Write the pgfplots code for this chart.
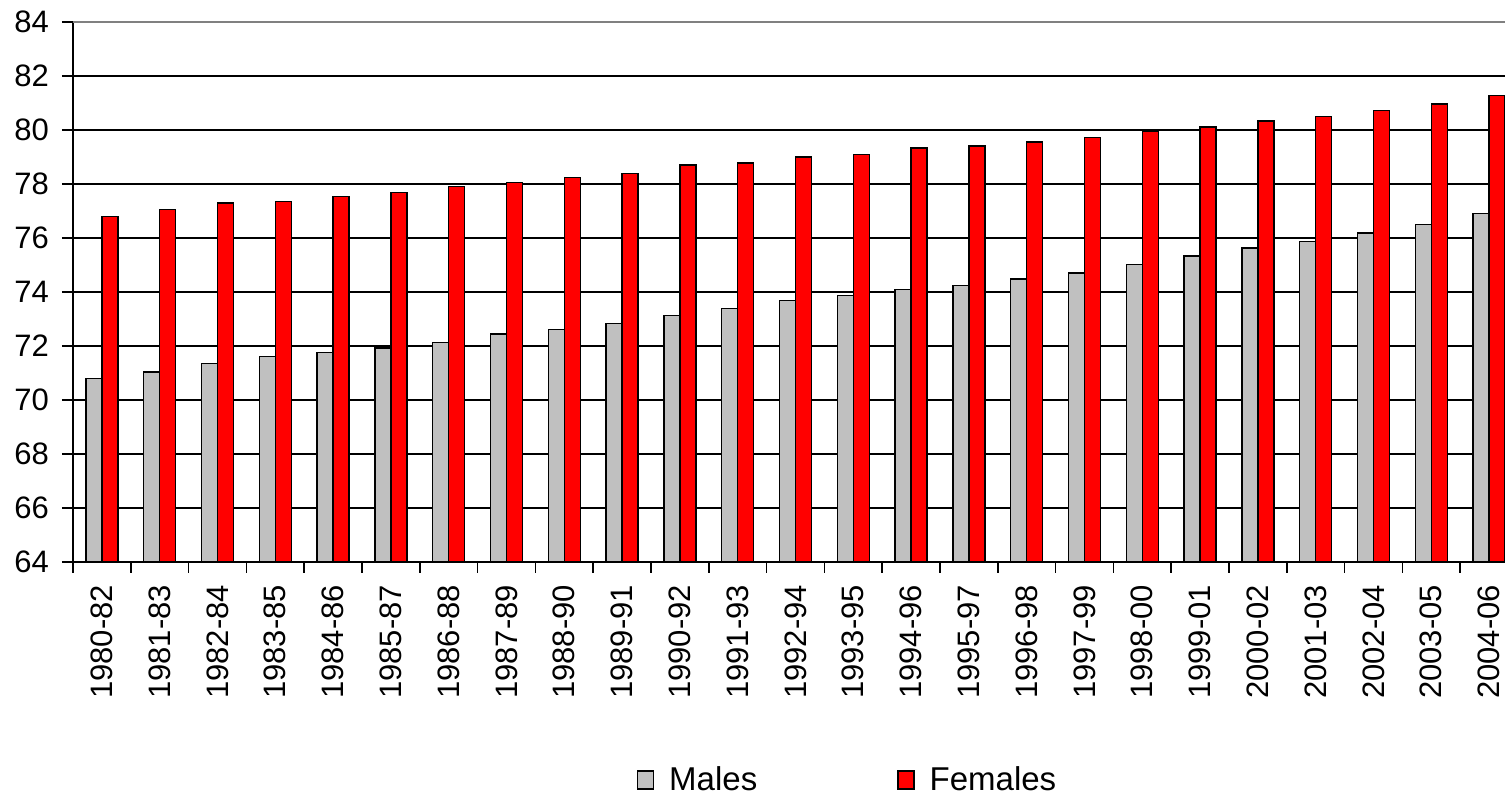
\documentclass[border=0pt]{standalone}
\usepackage{pgfplots}
\pgfplotsset{compat=1.18}
\usepackage{fontspec}
\setmainfont{Liberation Sans}
\definecolor{mgrey}{HTML}{C0C0C0}
\definecolor{fred}{HTML}{FF0000}
\begin{document}
\begin{tikzpicture}
\begin{scope}
\clip (-36.5pt,-117pt) rectangle (716pt,281pt);
\begin{axis}[
  at={(0,0)}, anchor=south west,
  scale only axis, width=722.5pt, height=270pt,
  ybar=0pt, bar width=8pt,
  xmin=-0.5, xmax=24.5, ymin=64, ymax=84,
  ytick={64,66,...,82},
  extra y ticks={84},
  extra y tick style={major grid style={draw=black!50, line width=0.7pt}},
  axis x line*=bottom, axis y line*=left,
  axis line style={line width=0.8pt, black},
  tick align=outside,
  major tick length=5.5pt,
  minor tick length=5.5pt,
  tick style={black, line width=0.8pt},
  xtick={0,...,24},
  major x tick style={draw=none},
  minor xtick={-0.5,0.5,...,24.5},
  minor x tick style={black, line width=0.8pt},
  xticklabels={1980-82,1981-83,1982-84,1983-85,1984-86,1985-87,1986-88,1987-89,1988-90,1989-91,1990-92,1991-93,1992-94,1993-95,1994-96,1995-97,1996-98,1997-99,1998-00,1999-01,2000-02,2001-03,2002-04,2003-05,2004-06},
  ymajorgrids, major grid style={black, line width=0.7pt},
  /pgf/number format/assume math mode=true,
  tick label style={font=\fontsize{15.5}{18}\selectfont},
  xticklabel style={yshift=-2.5pt, rotate=90, anchor=east},
  yticklabel style={xshift=-3pt},
  legend style={at={(0.5367,-0.404)}, anchor=center, draw=none, fill=none,
    legend columns=2, font=\fontsize{16.5}{19}\selectfont,
    /tikz/every odd column/.append style={column sep=5.5pt},
    /tikz/every even column/.append style={column sep=68pt}},
  legend image code/.code={\draw[#1, line width=0.7pt] (0pt,-4.5pt) rectangle (8pt,4.5pt);},
]
\addplot[fill=mgrey, draw=black, line width=0.7pt] coordinates {
(0,70.80) (1,71.03) (2,71.35) (3,71.60) (4,71.77) (5,71.92) (6,72.14) (7,72.44) (8,72.60) (9,72.84)
(10,73.14) (11,73.39) (12,73.69) (13,73.88) (14,74.10) (15,74.25) (16,74.48) (17,74.71) (18,75.02) (19,75.33)
(20,75.63) (21,75.87) (22,76.19) (23,76.50) (24,76.90)};
\addplot[fill=fred, draw=black, line width=0.7pt] coordinates {
(0,76.80) (1,77.06) (2,77.29) (3,77.36) (4,77.53) (5,77.68) (6,77.91) (7,78.06) (8,78.23) (9,78.38)
(10,78.70) (11,78.78) (12,79.00) (13,79.10) (14,79.33) (15,79.40) (16,79.55) (17,79.72) (18,79.94) (19,80.11)
(20,80.33) (21,80.49) (22,80.72) (23,80.96) (24,81.28)};
\legend{Males,Females}
\end{axis}
\end{scope}
\pgfresetboundingbox
\useasboundingbox (-36.5pt,-117pt) rectangle (716pt,281pt);
\end{tikzpicture}
\end{document}
